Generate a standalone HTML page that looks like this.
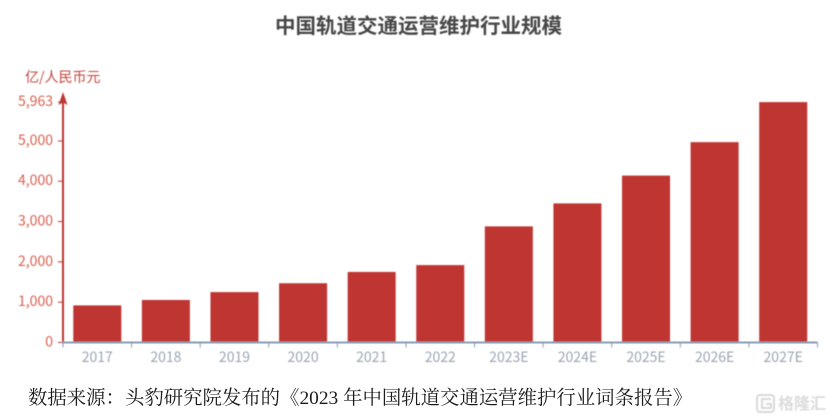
<!DOCTYPE html>
<html lang="zh-CN">
<head>
<meta charset="utf-8">
<title>中国轨道交通运营维护行业规模</title>
<style>
html,body{margin:0;padding:0;background:#fff;width:831px;height:420px;overflow:hidden}
svg{display:block}
.cjk{font-family:"Noto Sans CJK SC",sans-serif}
</style>
</head>
<body>
<svg id="chart" width="831" height="420" viewBox="0 0 831 420" xmlns="http://www.w3.org/2000/svg">
  <defs>
    <filter id="soft" x="-5%" y="-5%" width="110%" height="110%"><feGaussianBlur stdDeviation="0.45"/></filter>
  </defs>
  <g id="plot" filter="url(#soft)">
    <text class="cjk" x="418.5" y="33" text-anchor="middle" font-size="20.5" font-weight="700" fill="#464646">中国轨道交通运营维护行业规模</text>
    <text class="cjk" x="25" y="82" font-size="14" fill="#c6463f">亿/人民币元</text>
    <g id="bars"></g>
    <g id="y-axis"></g>
    <g id="x-axis"></g>
  </g>
  <text x="28" y="404" font-family="'Liberation Serif','Noto Serif CJK SC',serif" font-size="19.4" fill="#1c1c1c">数据来源：头豹研究院发布的《2023 年中国轨道交通运营维护行业词条报告》</text>
  <g filter="url(#soft)">
    <rect x="757" y="395" width="17" height="17" rx="3" fill="none" stroke="#d9d9d9" stroke-width="2"/>
    <path d="M771 399h-9v9h9v-4h-5" fill="none" stroke="#d9d9d9" stroke-width="2"/>
    <text class="cjk" x="778" y="409" font-size="16" font-weight="700" fill="#dcdcdc">格隆汇</text>
  </g>
</svg>
<script>
const categories = ['2017','2018','2019','2020','2021','2022','2023E','2024E','2025E','2026E','2027E'];
const marketSize = [920,1055,1250,1470,1750,1920,2880,3450,4140,4970,5963];
const yTicks = [0,1000,2000,3000,4000,5000,5963];
const yTickLabels = ['0','1,000','2,000','3,000','4,000','5,000','5,963'];

const NS = 'http://www.w3.org/2000/svg';
const plotLeft = 63, plotRight = 817.5, plotBottom = 342.5, pxPerUnit = 240.4 / 5963;
const bandWidth = (plotRight - plotLeft) / categories.length;
const barWidth = 48;
const yScale = v => plotBottom - v * pxPerUnit;
const xBand = i => plotLeft + i * bandWidth;

function make(tag, attrs, parent, text) {
  const el = document.createElementNS(NS, tag);
  for (const k in attrs) el.setAttribute(k, attrs[k]);
  if (text !== undefined) el.textContent = text;
  parent.appendChild(el);
  return el;
}
const barsG = document.getElementById('bars');
const yG = document.getElementById('y-axis');
const xG = document.getElementById('x-axis');

marketSize.forEach((v, i) => {
  const bar = make('rect', {
    x: xBand(i) + (bandWidth - barWidth) / 2,
    y: yScale(v),
    width: barWidth,
    height: plotBottom - yScale(v),
    fill: '#bf3530'
  }, barsG);
  
  
});

const yLine = make('line', {x1: plotLeft, x2: plotLeft, y1: plotBottom, y2: 100, stroke: '#bf3530', 'stroke-width': 2}, yG);


const arrow = make('path', {d: `M${plotLeft} 92L${plotLeft + 4.5} 105L${plotLeft} 102.5L${plotLeft - 4.5} 105Z`, fill: '#bf3530'}, yG);



yTicks.forEach((t, i) => {
  const y = yScale(t);
  const tick = make('line', {x1: plotLeft - 5, x2: plotLeft, y1: y, y2: y, stroke: '#bf3530', 'stroke-width': 1}, yG);
  
  
  const label = make('text', {
    x: plotLeft - 10, y: y + 4, 'text-anchor': 'end', 'font-size': 14,
    'font-family': '"Noto Sans CJK SC",sans-serif', fill: '#d9604f'
  }, yG, yTickLabels[i]);
  
  
});

const xLine = make('line', {x1: plotLeft - 1, x2: plotRight, y1: plotBottom, y2: plotBottom, stroke: '#8a9bb0', 'stroke-width': 2}, xG);



for (let i = 0; i <= categories.length; i++) {
  const tick = make('line', {x1: xBand(i), x2: xBand(i), y1: plotBottom, y2: plotBottom + 5, stroke: '#8a9bb0', 'stroke-width': 1}, xG);
  
  
}
categories.forEach((c, i) => {
  const label = make('text', {
    x: xBand(i) + bandWidth / 2, y: 362, 'text-anchor': 'middle', 'font-size': 14,
    'font-family': '"Noto Sans CJK SC",sans-serif', fill: '#9aa5b4'
  }, xG, c);
  
  
});
</script>
</body>
</html>
